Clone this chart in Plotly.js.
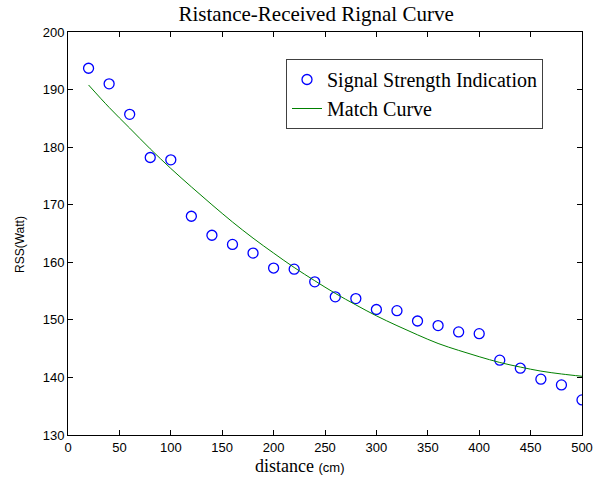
<!DOCTYPE html>
<html>
<head>
<meta charset="utf-8">
<script src="https://cdn.plot.ly/plotly-3.0.1.min.js"></script>
<style>html,body{margin:0;padding:0;background:#fff;}#chart{width:601px;height:479px;}</style>
</head>
<body>
<div id="chart"></div>
<script>
// Measured points
const distance = [20,40,60,80,100,120,140,160,180,200,220,240,260,280,300,320,340,360,380,400,420,440,460,480,500];
const rss = [193.7,191.0,185.7,178.2,177.8,168.0,164.7,163.1,161.6,159.0,158.8,156.6,154.0,153.7,151.8,151.6,149.8,149.0,147.9,147.6,143.0,141.6,139.7,138.7,136.1];
// Fitted curve
const curveX = [20,40,60,80,100,120,140,160,180,200,220,240,260,280,300,320,340,360,380,400,420,440,460,480,500];
const curveY = [190.8,186.9,183.3,179.7,176.3,173.1,170.0,167.0,164.2,161.6,159.1,156.8,154.6,152.6,150.7,149.0,147.4,145.9,144.7,143.6,142.6,141.8,141.1,140.6,140.2];
const xTicks = [0,50,100,150,200,250,300,350,400,450,500];
const yTicks = [130,140,150,160,170,180,190,200];

const serif = '"Liberation Serif", "Times New Roman", serif';
const sans = '"Liberation Sans", Arial, sans-serif';

const traces = [
  {x: distance, y: rss, type: 'scatter', mode: 'markers', name: 'Signal Strength Indication',
   marker: {symbol: 'circle-open', size: 10, color: '#0000ff', line: {width: 1.3, color: '#0000ff'}}},
  {x: curveX, y: curveY, type: 'scatter', mode: 'lines', name: 'Match Curve', line: {color: '#008000', width: 1, shape: 'spline'}}
];

const axisCommon = {showgrid: false, zeroline: false, showline: true, mirror: 'ticks', linecolor: '#000', linewidth: 1,
  ticks: 'inside', ticklen: 5, tickcolor: '#000', tickfont: {family: sans, size: 13, color: '#000'}};

const layout = {
  width: 601, height: 479,
  margin: {l: 68, r: 19, t: 32, b: 44},
  paper_bgcolor: '#fff', plot_bgcolor: '#fff',
  title: {text: 'Ristance-Received Rignal Curve', font: {family: serif, size: 21, color: '#000'}, x: 0.526, xanchor: 'center', y: 0.971, yanchor: 'middle'},
  xaxis: Object.assign({}, axisCommon, {range: [0, 500], tickvals: xTicks, ticktext: xTicks.map(String)}),
  yaxis: Object.assign({}, axisCommon, {range: [130, 200], tickvals: yTicks, ticktext: yTicks.map(String)}),
  annotations: [
    {text: 'distance <span style="font-family:Liberation Sans, Arial;font-size:13px">(cm)</span>', xref: 'paper', yref: 'paper',
     x: (299 - 68) / 514, y: -(466 - 435) / 403, xanchor: 'center', yanchor: 'middle', showarrow: false,
     font: {family: serif, size: 18, color: '#000'}},
    {text: 'RSS(Watt)', xref: 'paper', yref: 'paper', x: -(68 - 20) / 514, y: (435 - 245) / 403,
     xanchor: 'center', yanchor: 'middle', textangle: -90, showarrow: false, font: {family: sans, size: 12, color: '#000'}}
  ],
  showlegend: true,
  legend: {x: (286 - 68) / 514, y: (435 - 59) / 403, xanchor: 'left', yanchor: 'top', bgcolor: '#fff', bordercolor: '#404040', borderwidth: 1,
    font: {family: serif, size: 20, color: '#000'}, itemwidth: 30, tracegroupgap: 0}
};

Plotly.newPlot('chart', traces, layout, {displayModeBar: false, staticPlot: true});
</script>
</body>
</html>
